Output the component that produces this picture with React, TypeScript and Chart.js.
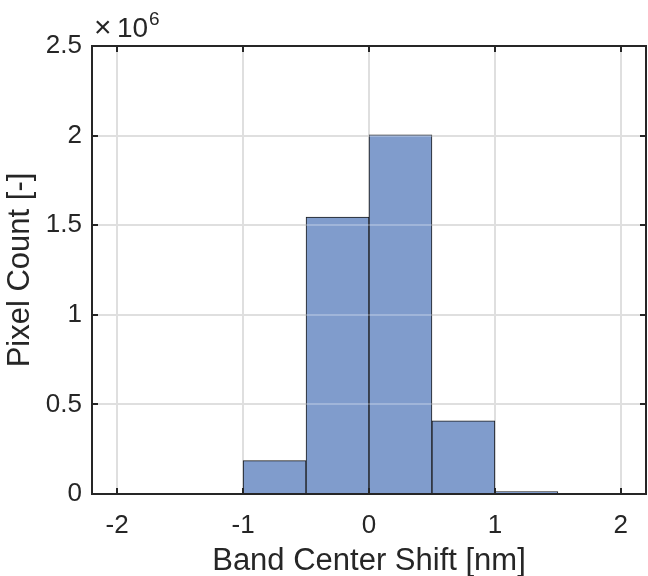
import React, { useEffect, useRef } from "react";
import { Chart, registerables } from "chart.js";

Chart.register(...registerables);

const binCenters = [-1.75, -1.25, -0.75, -0.25, 0.25, 0.75, 1.25, 1.75];
const counts = [0, 4000, 186000, 1545000, 2004000, 409000, 14000, 0];
const xTickValues = [-2, -1, 0, 1, 2];
const yTickValues = [0, 0.5e6, 1e6, 1.5e6, 2e6, 2.5e6];
const xLabel = "Band Center Shift [nm]";
const yLabel = "Pixel Count [-]";

const FONT = "'Liberation Sans', Arial, Helvetica, sans-serif";

const gridOverlayPlugin = {
  id: "gridOverlay",
  afterDatasetsDraw(chart: any) {
    const { ctx, chartArea } = chart;
    const ys = chart.scales.y;
    ctx.save();
    ctx.strokeStyle = "rgba(255,255,255,0.25)";
    ctx.lineWidth = 2;
    ctx.beginPath();
    yTickValues.forEach((v) => {
      const py = Math.round(ys.getPixelForValue(v));
      ctx.moveTo(chartArea.left, py);
      ctx.lineTo(chartArea.right, py);
    });
    ctx.stroke();
    ctx.restore();
  },
};

const framePlugin = {
  id: "frame",
  afterDraw(chart: any) {
    const { ctx, chartArea } = chart;
    const { left, right, top, bottom } = chartArea;
    const xs = chart.scales.x;
    const ys = chart.scales.y;
    ctx.save();
    ctx.strokeStyle = "#262626";
    ctx.lineWidth = 2;
    ctx.beginPath();
    xTickValues.forEach((v) => {
      const px = Math.round(xs.getPixelForValue(v));
      ctx.moveTo(px, bottom);
      ctx.lineTo(px, bottom - 6);
      ctx.moveTo(px, top);
      ctx.lineTo(px, top + 6);
    });
    yTickValues.forEach((v) => {
      const py = Math.round(ys.getPixelForValue(v));
      ctx.moveTo(left, py);
      ctx.lineTo(left + 6, py);
      ctx.moveTo(right, py);
      ctx.lineTo(right - 6, py);
    });
    ctx.stroke();
    ctx.strokeRect(left, top, right - left, bottom - top);
    ctx.fillStyle = "#262626";
    ctx.textBaseline = "alphabetic";
    ctx.textAlign = "left";
    ctx.font = `30px ${FONT}`;
    ctx.fillText("\u00d7", left + 2, top - 9);
    ctx.font = `28px ${FONT}`;
    ctx.fillText("10", left + 25, top - 9);
    ctx.font = `19px ${FONT}`;
    ctx.fillText("6", left + 57, top - 21);
    ctx.restore();
  },
};

export default function App() {
  const ref = useRef<HTMLCanvasElement | null>(null);
  useEffect(() => {
    document.body.style.margin = "0";
    const canvas = ref.current!;
    const chart = new Chart(canvas, {
      type: "bar",
      data: {
        datasets: [
          {
            data: binCenters.map((c, i) => ({ x: c, y: counts[i] })),
            backgroundColor: "#809ccc",
            borderColor: "#1a1a1a",
            borderWidth: 1,
            barPercentage: 1,
            categoryPercentage: 1,
          },
        ],
      },
      options: {
        animation: false,
        responsive: false,
        maintainAspectRatio: false,
        layout: { padding: { top: 46, right: 2, left: 0, bottom: 0 } },
        plugins: { legend: { display: false }, tooltip: { enabled: false } },
        scales: {
          x: {
            type: "linear",
            min: -2.2,
            max: 2.2,
            offset: false,
            afterBuildTicks: (s: any) => {
              s.ticks = xTickValues.map((v) => ({ value: v }));
            },
            afterFit: (s: any) => {
              s.height = 82;
            },
            grid: { color: "#dfdfdf", lineWidth: 2, drawTicks: false, offset: false },
            border: { display: false },
            ticks: {
              color: "#262626",
              font: { family: FONT, size: 26 },
              padding: 16,
              maxRotation: 0,
              callback: (v: any) => String(v),
            },
            title: {
              display: true,
              text: xLabel,
              color: "#262626",
              font: { family: FONT, size: 31 },
              padding: { top: 0, bottom: -4 },
            },
          },
          y: {
            type: "linear",
            min: 0,
            max: 2.5e6,
            afterBuildTicks: (s: any) => {
              s.ticks = yTickValues.map((v) => ({ value: v }));
            },
            afterFit: (s: any) => {
              s.width = 92;
            },
            grid: { color: "#d5d5d5", lineWidth: 2, drawTicks: false },
            border: { display: false },
            ticks: {
              color: "#262626",
              font: { family: FONT, size: 26 },
              padding: 10,
              callback: (v: any) => String(v / 1e6),
            },
            title: {
              display: true,
              text: yLabel,
              color: "#262626",
              font: { family: FONT, size: 31 },
              padding: { top: 2, bottom: 0 },
            },
          },
        },
      },
      plugins: [gridOverlayPlugin, framePlugin],
    } as any);
    return () => chart.destroy();
  }, []);
  return (
    <div style={{ width: 648, height: 576 }}>
      <canvas ref={ref} width={648} height={576} style={{ display: "block" }} />
    </div>
  );
}
